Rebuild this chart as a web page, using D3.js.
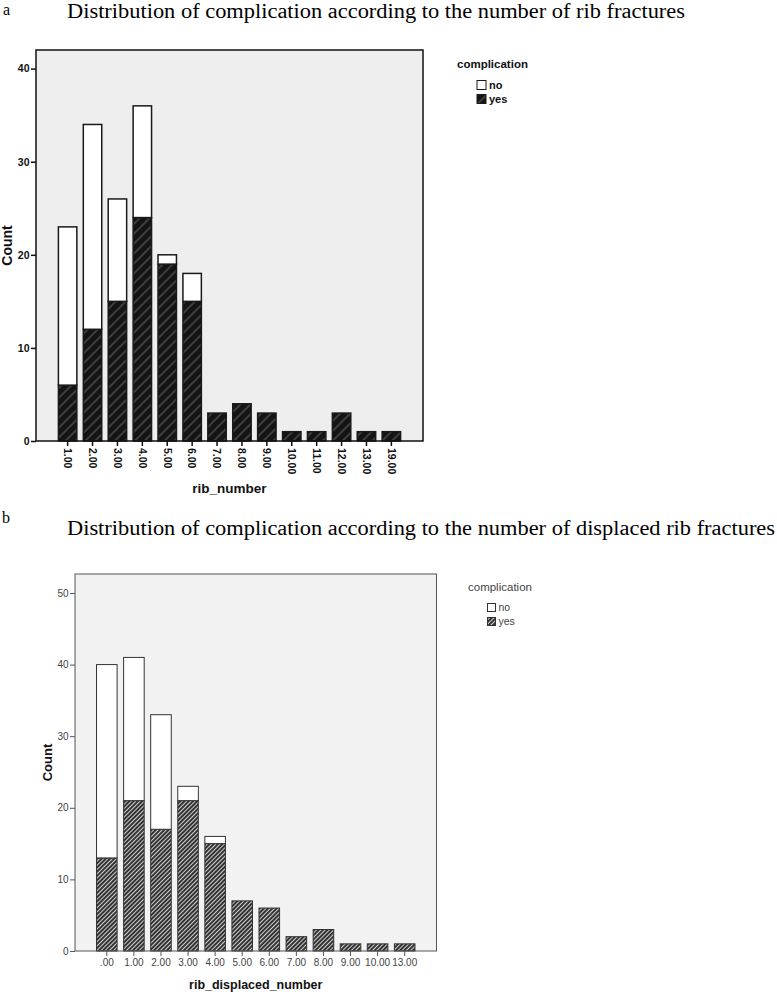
<!DOCTYPE html>
<html>
<head>
<meta charset="utf-8">
<script src="https://cdn.jsdelivr.net/npm/d3@7"></script>
<style>
    body { margin: 0; background: #fff; }
    svg text { font-family: "Liberation Sans", Arial, sans-serif; }
    svg text.serif { font-family: "Liberation Serif", "Times New Roman", serif; }
</style>
</head>
<body>
<div id="chart"></div>
<script>
// Panel a: complication by number of rib fractures
const ribCategories = ['1.00', '2.00', '3.00', '4.00', '5.00', '6.00', '7.00', '8.00', '9.00', '10.00', '11.00', '12.00', '13.00', '19.00'];
const ribYes = [6, 12, 15, 24, 19, 15, 3, 4, 3, 1, 1, 3, 1, 1];
const ribNo  = [17, 22, 11, 12, 1, 3, 0, 0, 0, 0, 0, 0, 0, 0];
const ribTicks = [0, 10, 20, 30, 40];

// Panel b: complication by number of displaced rib fractures
const displacedCategories = ['.00', '1.00', '2.00', '3.00', '4.00', '5.00', '6.00', '7.00', '8.00', '9.00', '10.00', '13.00'];
const displacedYes = [13, 21, 17, 21, 15, 7, 6, 2, 3, 1, 1, 1];
const displacedNo  = [27, 20, 16, 2, 1, 0, 0, 0, 0, 0, 0, 0];
const displacedTicks = [0, 10, 20, 30, 40, 50];

const legendKeys = ['no', 'yes'];

const svg = d3.select('#chart').append('svg')
    .attr('width', 777)
    .attr('height', 992);

// Hatch patterns
const defs = svg.append('defs');

const hatchA = defs.append('pattern')
    .attr('id', 'hatchA')
    .attr('patternUnits', 'userSpaceOnUse')
    .attr('width', 7).attr('height', 7)
    .attr('patternTransform', 'rotate(45)');
hatchA.append('rect').attr('width', 7).attr('height', 7).attr('fill', '#141414');
hatchA.append('line').attr('x1', 1).attr('y1', 0).attr('x2', 1).attr('y2', 7)
    .attr('stroke', '#707070').attr('stroke-width', 0.9);

const hatchB = defs.append('pattern')
    .attr('id', 'hatchB')
    .attr('patternUnits', 'userSpaceOnUse')
    .attr('width', 3).attr('height', 3)
    .attr('patternTransform', 'rotate(45)');
hatchB.append('rect').attr('width', 3).attr('height', 3).attr('fill', '#d0d0d0');
hatchB.append('line').attr('x1', 1).attr('y1', 0).attr('x2', 1).attr('y2', 3)
    .attr('stroke', '#2a2a2a').attr('stroke-width', 1.9);

// Titles
svg.append('text').attr('class', 'serif')
    .attr('x', 3).attr('y', 15)
    .style('font-size', '16px')
    .text('a');
svg.append('text').attr('class', 'serif')
    .attr('x', 67).attr('y', 17.5)
    .attr('textLength', 618)
    .attr('lengthAdjust', 'spacingAndGlyphs')
    .style('font-size', '20px')
    .text('Distribution of complication according to the number of rib fractures');

svg.append('text').attr('class', 'serif')
    .attr('x', 2).attr('y', 523)
    .style('font-size', '16px')
    .text('b');
svg.append('text').attr('class', 'serif')
    .attr('x', 67).attr('y', 535)
    .attr('textLength', 708)
    .attr('lengthAdjust', 'spacingAndGlyphs')
    .style('font-size', '20px')
    .text('Distribution of complication according to the number of displaced rib fractures');

function drawPanel(opt) {
    const table = opt.categories.map((c, i) => ({cat: c, yes: opt.yes[i], no: opt.no[i]}));
    const series = d3.stack().keys(['yes', 'no'])(table);

    const x = d3.scaleBand()
        .domain(opt.categories)
        .range([opt.left, opt.right])
        .paddingInner(opt.padInner)
        .paddingOuter(opt.padOuter);

    const y = d3.scaleLinear()
        .domain([0, opt.yMax])
        .range([opt.bottom, opt.top]);

    const g = svg.append('g');

    // Plot background
    g.append('rect')
        .attr('x', opt.left).attr('y', opt.top)
        .attr('width', opt.right - opt.left)
        .attr('height', opt.bottom - opt.top)
        .attr('fill', opt.bg);

    // Bars
    series.forEach(s => {
        g.selectAll(null)
            .data(s.filter(d => d[1] - d[0] > 0))
          .enter().append('rect')
            .attr('x', d => x(d.data.cat))
            .attr('y', d => y(d[1]))
            .attr('width', x.bandwidth())
            .attr('height', d => y(d[0]) - y(d[1]))
            .attr('fill', s.key === 'yes' ? opt.hatch : '#fff')
            .attr('stroke', opt.barStroke)
            .attr('stroke-width', opt.barStrokeWidth);
    });

    // Frame
    g.append('rect')
        .attr('x', opt.left).attr('y', opt.top)
        .attr('width', opt.right - opt.left)
        .attr('height', opt.bottom - opt.top)
        .attr('fill', 'none')
        .attr('stroke', opt.frame)
        .attr('stroke-width', opt.frameWidth);

    // Y axis
    const yAxis = g.append('g')
        .attr('transform', `translate(${opt.left},0)`)
        .call(d3.axisLeft(y).tickValues(opt.ticks).tickSize(5).tickPadding(1.5));
    yAxis.select('.domain').remove();
    yAxis.selectAll('line').attr('stroke', opt.frame).attr('stroke-width', opt.frameWidth);
    yAxis.selectAll('text')
        .attr('fill', opt.textColor)
        .style('font-size', opt.tickFont)
        .style('font-weight', opt.weight)
        .style('font-family', '"Liberation Sans", Arial, sans-serif');

    // X axis
    const xAxis = g.append('g')
        .attr('transform', `translate(0,${opt.bottom})`)
        .call(d3.axisBottom(x).tickSize(5).tickPadding(3));
    xAxis.select('.domain').remove();
    xAxis.selectAll('line').attr('stroke', opt.frame).attr('stroke-width', opt.frameWidth);
    xAxis.selectAll('text')
        .attr('fill', opt.textColor)
        .style('font-size', opt.tickFont)
        .style('font-weight', opt.weight)
        .style('font-family', '"Liberation Sans", Arial, sans-serif');
    if (opt.rotateTicks) {
        xAxis.selectAll('text')
            .attr('transform', 'rotate(90)')
            .attr('x', 7)
            .attr('y', 0)
            .attr('dy', '0.35em')
            .style('text-anchor', 'start');
    }

    // Axis titles
    svg.append('text')
        .attr('x', (opt.left + opt.right) / 2)
        .attr('y', opt.xTitleY)
        .attr('text-anchor', 'middle')
        .attr('fill', '#111')
        .style('font-size', opt.xTitleFont)
        .style('font-weight', 'bold')
        .text(opt.xTitle);

    svg.append('text')
        .attr('transform', `translate(${opt.yTitleX},${(opt.top + opt.bottom) / 2}) rotate(-90)`)
        .attr('text-anchor', 'middle')
        .attr('fill', '#111')
        .style('font-size', opt.yTitleFont)
        .style('font-weight', 'bold')
        .text('Count');

    // Legend
    const lg = svg.append('g');
    lg.append('text')
        .attr('x', opt.legendX).attr('y', opt.legendY)
        .attr('fill', opt.textColor)
        .style('font-size', opt.legendTitleFont)
        .style('font-weight', opt.weight)
        .text('complication');
    legendKeys.forEach((k, i) => {
        const row = lg.append('g')
            .attr('transform', `translate(${opt.legendX + opt.boxDx},${opt.legendY + opt.firstGap + opt.rowGap * i})`);
        row.append('rect')
            .attr('x', 0).attr('y', -opt.boxSize + 0.5)
            .attr('width', opt.boxSize).attr('height', opt.boxSize)
            .attr('fill', k === 'yes' ? opt.hatch : '#fff')
            .attr('stroke', opt.barStroke)
            .attr('stroke-width', 1);
        row.append('text')
            .attr('x', opt.boxSize + 3).attr('y', 0)
            .attr('fill', opt.textColor)
            .style('font-size', opt.legendFont)
            .style('font-weight', opt.weight)
            .text(k);
    });
}

drawPanel({
    categories: ribCategories, yes: ribYes, no: ribNo, ticks: ribTicks,
    left: 36, right: 423, top: 50, bottom: 441, yMax: 42,
    padInner: 0.26, padOuter: 0.9,
    bg: '#eeeeee', hatch: 'url(#hatchA)',
    barStroke: '#1a1a1a', barStrokeWidth: 1.5,
    frame: '#111', frameWidth: 1.5,
    textColor: '#111', weight: 'bold', tickFont: '10.5px',
    rotateTicks: true,
    xTitle: 'rib_number', xTitleY: 493, xTitleFont: '13.5px',
    yTitleX: 12, yTitleFont: '14px',
    legendX: 457, legendY: 67.5, legendTitleFont: '11.5px', legendFont: '11px',
    boxDx: 20, boxSize: 9, firstGap: 21.5, rowGap: 14
});

drawPanel({
    categories: displacedCategories, yes: displacedYes, no: displacedNo, ticks: displacedTicks,
    left: 75, right: 436.5, top: 574, bottom: 951, yMax: 52.65,
    padInner: 0.24, padOuter: 0.795,
    bg: '#f2f2f2', hatch: 'url(#hatchB)',
    barStroke: '#333', barStrokeWidth: 1,
    frame: '#555', frameWidth: 1,
    textColor: '#444', weight: 'normal', tickFont: '10px',
    rotateTicks: false,
    xTitle: 'rib_displaced_number', xTitleY: 988.5, xTitleFont: '12.5px',
    yTitleX: 51.5, yTitleFont: '13px',
    legendX: 468, legendY: 591, legendTitleFont: '11.5px', legendFont: '10.5px',
    boxDx: 19.5, boxSize: 8, firstGap: 20, rowGap: 14
});
</script>
</body>
</html>
